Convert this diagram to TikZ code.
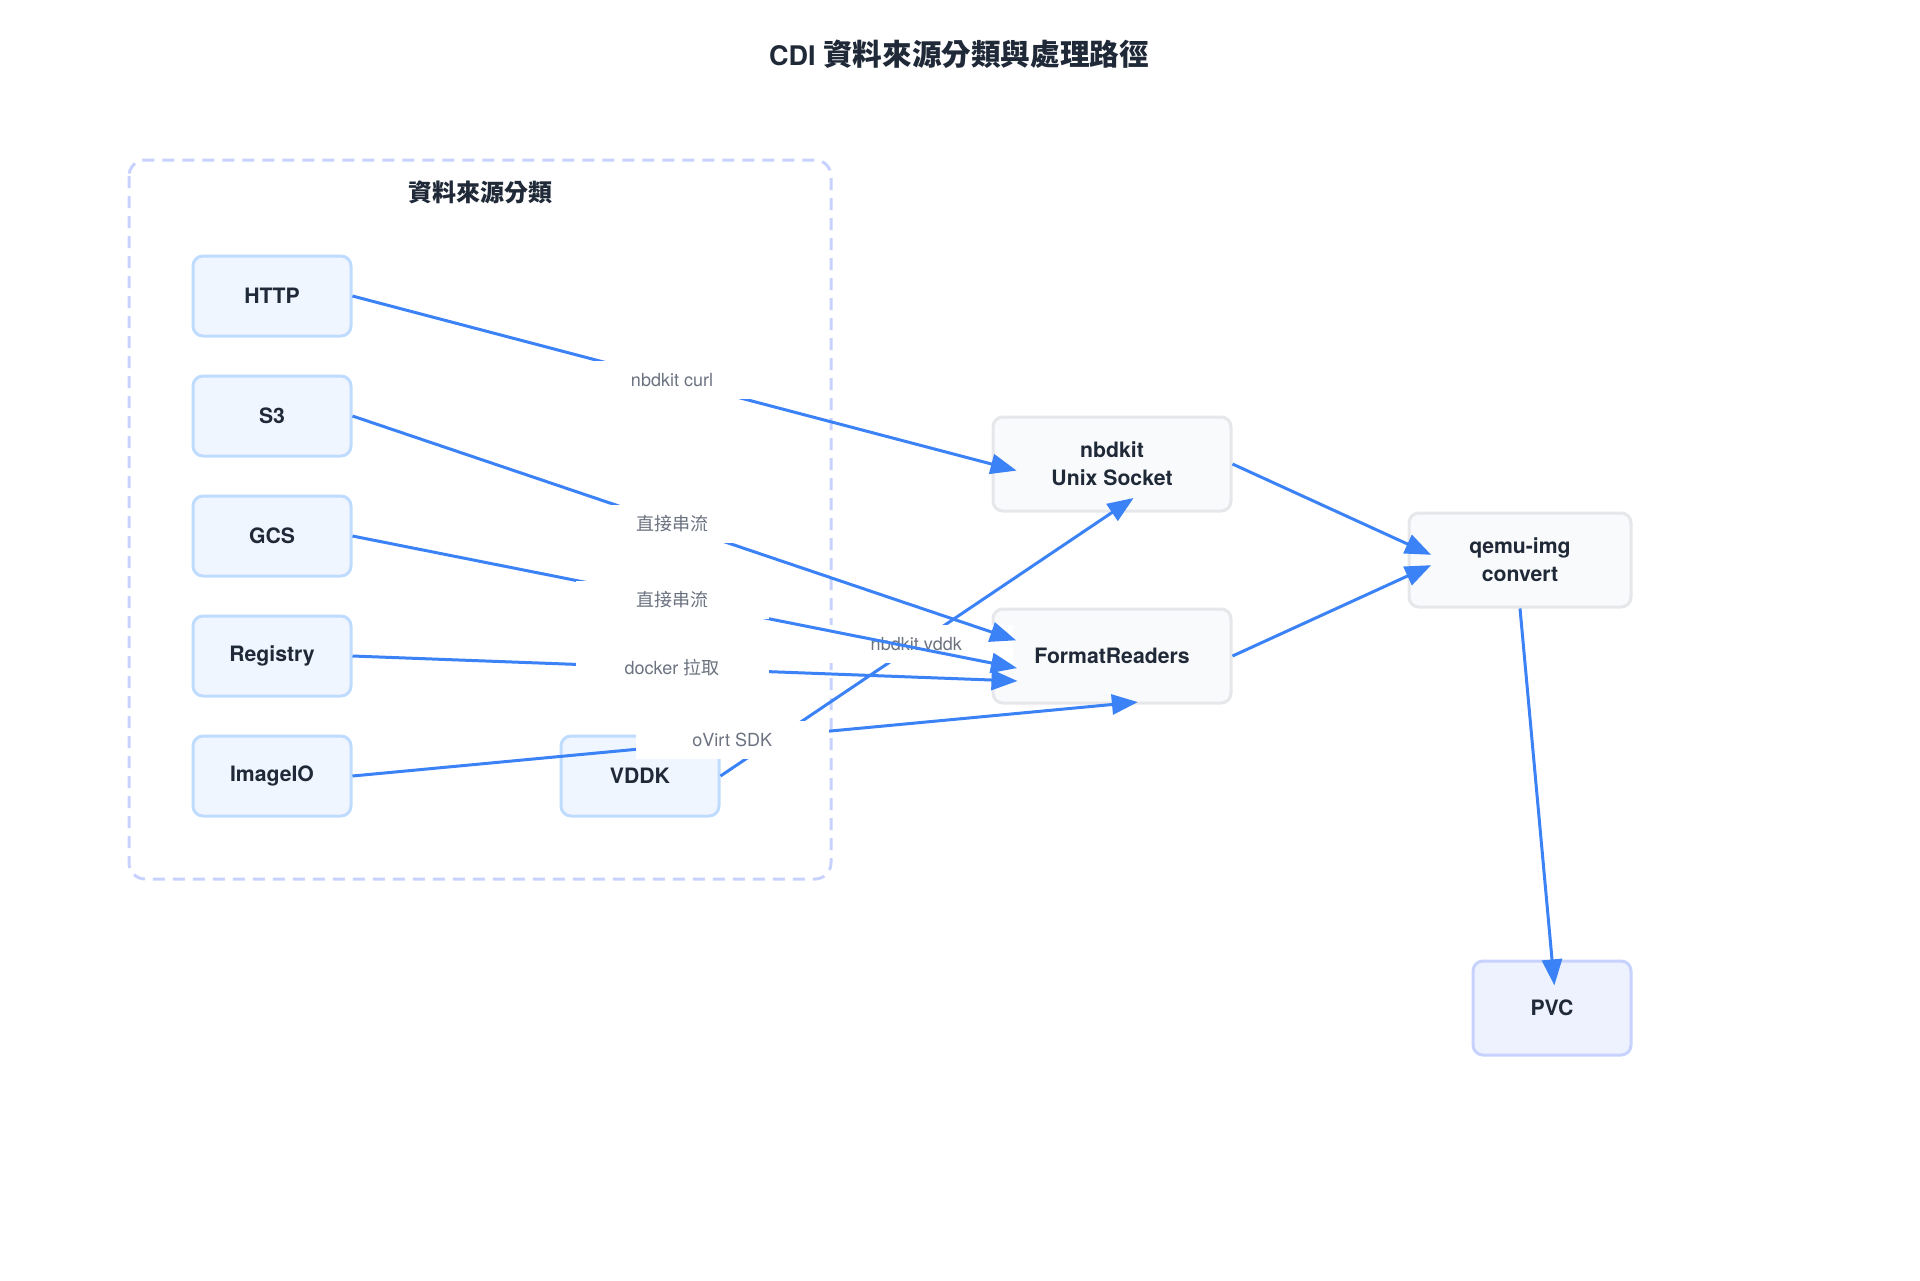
\documentclass[tikz,border=0pt]{standalone}
\usepackage{fontspec}
\setmainfont{TeX Gyre Heros}
\newfontfamily\cjk{Noto Sans CJK TC}
\usetikzlibrary{arrows.meta}
\definecolor{edgeblue}{HTML}{3B82F6}
\definecolor{srcfill}{HTML}{EFF6FF}
\definecolor{srcline}{HTML}{BFDBFE}
\definecolor{procfill}{HTML}{F9FAFB}
\definecolor{procline}{HTML}{E5E7EB}
\definecolor{pvcfill}{HTML}{EEF2FF}
\definecolor{pvcline}{HTML}{C7D2FE}
\definecolor{ink}{HTML}{1F2937}
\definecolor{labelgray}{HTML}{6B7280}
\tikzset{
  srcbox/.style={draw=srcline, fill=srcfill, line width=1.5pt, rounded corners=5pt,
    minimum width=79pt, minimum height=40pt, text=ink, align=center,
    font=\bfseries\fontsize{10.6}{14}\selectfont},
  procbox/.style={srcbox, draw=procline, fill=procfill, minimum width=119pt, minimum height=47pt},
  flow/.style={draw=edgeblue, line width=1.5pt, -{Triangle[length=13pt,width=10pt]}, shorten >=-13pt},
  flowlabel/.style={fill=white, minimum width=96.5pt, minimum height=19pt, inner sep=0pt,
    text=labelgray, font=\fontsize{9}{11}\selectfont},
}
\begin{document}
\begin{tikzpicture}[x=0.5pt,y=-0.5pt]
\useasboundingbox (0,0) rectangle (1920,1280);

\node[text=ink, font=\bfseries\fontsize{13.5}{16}\selectfont] (title) at (959,54)
  {CDI {\cjk\fontsize{14.8}{16}\selectfont 資料來源分類與處理路徑}};

\draw[pvcline, line width=1.5pt, dash pattern=on 6pt off 4pt, rounded corners=8pt]
  (129,160) rectangle (831,879);
\node[text=ink, font=\cjk\bfseries\fontsize{12}{14}\selectfont] (grouplabel) at (480,192) {資料來源分類};

\node[srcbox] (http) at (272,296) {HTTP};
\node[srcbox] (s3) at (272,416) {S3};
\node[srcbox] (gcs) at (272,536) {GCS};
\node[srcbox] (registry) at (272,656) {Registry};
\node[srcbox] (imageio) at (272,776) {ImageIO};
\node[srcbox] (vddk) at (640,776) {VDDK};

\node[procbox] (nbdkit) at (1112,464) {nbdkit\\Unix Socket};
\node[procbox] (fmt) at (1112,656) {FormatReaders};
\node[procbox, minimum width=111pt] (qemu) at (1520,560) {qemu-img\\convert};
\node[srcbox, draw=pvcline, fill=pvcfill, minimum height=47pt] (pvc) at (1552,1008) {PVC};

\draw[flow] (vddk.east) -- node[flowlabel] (lvddk) {nbdkit vddk} (nbdkit.south);
\draw[flow] (imageio.east) -- node[flowlabel] (lovirt) {oVirt SDK} (fmt.south);
\draw[flow] (http.east) -- node[flowlabel] (lcurl) {nbdkit curl} (nbdkit.west);
\draw[flow] (s3.east) -- node[flowlabel] (ls3) {{\cjk 直接串流}} ([yshift=12pt]fmt.west);
\draw[flow] (gcs.east) -- node[flowlabel] (lgcs) {{\cjk 直接串流}} ([yshift=-3.5pt]fmt.west);
\draw[flow] (registry.east) -- node[flowlabel] (ldocker) {docker {\cjk 拉取}} ([yshift=-12pt]fmt.west);

\draw[flow] (nbdkit.east) -- ([yshift=8pt]qemu.west);
\draw[flow] (fmt.east) -- ([yshift=-8pt]qemu.west);
\draw[flow] (qemu.south) -- (pvc.north);
\end{tikzpicture}
\end{document}
